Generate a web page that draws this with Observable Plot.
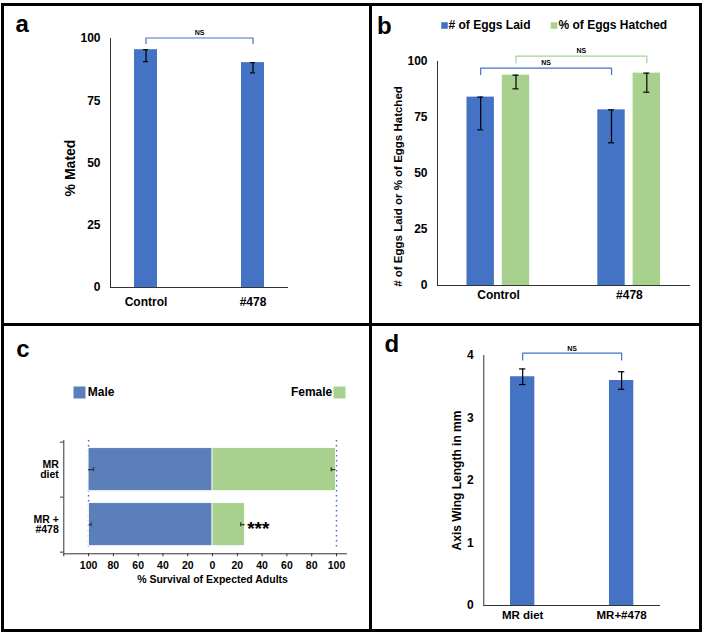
<!DOCTYPE html>
<html><head><meta charset="utf-8">
<script src="https://cdn.jsdelivr.net/npm/d3@7"></script>
<script src="https://cdn.jsdelivr.net/npm/@observablehq/plot@0.6"></script>
<style>
body{margin:0;background:#fff}
#root{position:relative;width:706px;height:634px;background:#fff;overflow:hidden}
.panel{position:absolute}
.bline{position:absolute;background:#000}
</style></head><body><div id="root"></div>
<script>
// ---------- data ----------
const aGroups = ["Control", "#478"];
const aMated = [95.5, 90.3];
const aMatedErr = [4.8, 4.1];
const aYTicks = [0, 25, 50, 75, 100];
const aYTitle = "% Mated";
const aBracket = [98.0, 100.2]; // leg end, bracket level (data units)

const bGroups = ["Control", "#478"];
const bSeries = ["# of Eggs Laid", "% of Eggs Hatched"];
const bLaid = [84.1, 78.4];
const bLaidErr = [14.6, 14.7];
const bHatched = [93.9, 94.8];
const bHatchedErr = [6.1, 8.5];
const bYTicks = [0, 25, 50, 75, 100];
const bYTitle = "# of Eggs Laid or % of Eggs Hatched";
const bBracketLaid = [94.2, 97.0];
const bBracketHatched = [99.4, 102.4];

const cGroups = ["MR diet", "MR + #478"];
const cGroupLabels = ["MR\ndiet", "MR +\n#478"];
const cSeries = ["Male", "Female"];
const cMale = [100, 99.6];
const cMaleErr = [4.0, 1.7];
const cFemale = [99.5, 26.3];
const cFemaleErr = [3.7, 3.5];
const cSignif = ["", "***"];
const cXTicks = [-120, -100, -80, -60, -40, -20, 0, 20, 40, 60, 80, 100];
const cXTitle = "% Survival of Expected Adults";

const dGroups = ["MR diet", "MR+#478"];
const dWing = [3.66, 3.60];
const dWingErr = [0.125, 0.14];
const dYTicks = [0, 1, 2, 3, 4];
const dYTitle = "Axis Wing Length in mm";
const dBracket = [3.93, 4.037];

const nsLabel = "NS";
const panelLetters = ["a", "b", "c", "d"];

// ---------- style ----------
const BLUE = "#4472c4";
const GREEN = "#a9d18e";
const MALE = "#5b7fb9";
const AXIS = "#333";
const FONT = "'Liberation Sans', Arial, Helvetica, sans-serif";
const baseStyle = `font-family:${FONT};font-weight:bold;font-size:12px;color:#000;background:transparent;overflow:visible`;

function bracket(from, to, lv) {
  return [{x: from, y: lv[0]}, {x: from, y: lv[1]}, {x: to, y: lv[1]}, {x: to, y: lv[0]}];
}

const root = document.getElementById("root");
function place(svg, left, top, w, h) {
  const div = document.createElement("div");
  div.className = "panel";
  div.style.left = left + "px"; div.style.top = top + "px";
  div.style.width = w + "px"; div.style.height = h + "px";
  div.appendChild(svg);
  root.appendChild(div);
}
function yTitle(text, dx, dy, fontSize) {
  return Plot.text([text], {frameAnchor: "left", rotate: -90, textAnchor: "middle", lineAnchor: "middle", dx, dy, fontSize});
}
function letter(text, dx, dy) {
  return Plot.text([text], {frameAnchor: "top-left", dx, dy, textAnchor: "start", lineAnchor: "bottom", fontSize: 24});
}
function legendText(text, dx, dy, anchor) {
  return Plot.text([text], {frameAnchor: "top-left", dx, dy, textAnchor: anchor, lineAnchor: "middle", fontSize: 12});
}

// ---------- panel a ----------
const aData = aGroups.map((g, i) => ({g, v: aMated[i], e: aMatedErr[i]}));
place(Plot.plot({
  width: 369, height: 322, marginLeft: 110, marginRight: 81, marginTop: 38, marginBottom: 35,
  style: baseStyle,
  x: {type: "band", domain: aGroups, paddingInner: 0.785, paddingOuter: 0.2243, round: false},
  y: {domain: [0, 100]},
  marks: [
    Plot.barY(aData, {x: "g", y: "v", fill: BLUE}),
    Plot.ruleX(aData, {x: "g", y1: d => d.v - d.e, y2: "v", stroke: "#000", strokeWidth: 1.2}),
    Plot.tickY(aData, {x: "g", y: d => d.v - d.e, stroke: "#000", strokeWidth: 1.2, insetLeft: 9, insetRight: 9}),
    Plot.tickY(aData, {x: "g", y: "v", stroke: "#000", strokeWidth: 1.2, insetLeft: 9, insetRight: 9}),
    Plot.line(bracket(aGroups[0], aGroups[1], aBracket), {x: "x", y: "y", stroke: BLUE, strokeWidth: 1.2}),
    Plot.text([{t: nsLabel, y: aBracket[1]}], {y: "y", text: "t", frameAnchor: "middle", textAnchor: "middle", lineAnchor: "middle", dy: -5, fontSize: 7}),
    Plot.ruleY([0], {stroke: AXIS}),
    Plot.frame({anchor: "left", stroke: AXIS}),
    Plot.axisY({ticks: aYTicks, tickSize: 0, tickPadding: 10, label: null, fontSize: 12}),
    Plot.axisX({tickSize: 0, tickPadding: 10, label: null, fontSize: 12}),
    yTitle(aYTitle, -40, 5, 14),
    letter(panelLetters[0], -95, -6.3)
  ]
}), 0, 0, 369, 322);

// ---------- panel b ----------
const bLaidData = bGroups.map((g, i) => ({g, v: bLaid[i], e: bLaidErr[i]}));
const bHatchData = bGroups.map((g, i) => ({g, v: bHatched[i], e: bHatchedErr[i]}));
const bOff = [-17.9, 17.4];
const bCols = [BLUE, GREEN];
const bMarks = [];
[bLaidData, bHatchData].forEach((data, k) => {
  bMarks.push(
    Plot.barY(data, {x: "g", y: "v", fill: bCols[k], dx: bOff[k], insetLeft: 19, insetRight: 19}),
    Plot.ruleX(data, {x: "g", y1: d => d.v - d.e, y2: "v", dx: bOff[k], stroke: "#000", strokeWidth: 1.2}),
    Plot.tickY(data, {x: "g", y: d => d.v - d.e, dx: bOff[k], stroke: "#000", strokeWidth: 1.2, insetLeft: 29.7, insetRight: 29.7}),
    Plot.tickY(data, {x: "g", y: "v", dx: bOff[k], stroke: "#000", strokeWidth: 1.2, insetLeft: 29.7, insetRight: 29.7})
  );
});
[bBracketLaid, bBracketHatched].forEach((lv, k) => {
  bMarks.push(
    Plot.line(bracket(bGroups[0], bGroups[1], lv), {x: "x", y: "y", dx: bOff[k], stroke: bCols[k], strokeWidth: 1.2}),
    Plot.text([{t: nsLabel, y: lv[1]}], {y: "y", text: "t", frameAnchor: "middle", textAnchor: "middle", lineAnchor: "middle", dx: bOff[k], dy: -5, fontSize: 7})
  );
});
place(Plot.plot({
  width: 337, height: 322, marginLeft: 68, marginRight: 16, marginTop: 61, marginBottom: 37,
  style: baseStyle,
  x: {type: "band", domain: bGroups, paddingInner: 0.5, paddingOuter: 0.217, round: false},
  y: {domain: [0, 100]},
  marks: [
    ...bMarks,
    Plot.ruleY([0], {stroke: AXIS}),
    Plot.frame({anchor: "left", stroke: AXIS}),
    Plot.axisY({ticks: bYTicks, tickSize: 0, tickPadding: 10, label: null, fontSize: 12}),
    Plot.axisX({tickSize: 0, tickPadding: 5, label: null, fontSize: 12}),
    yTitle(bYTitle, -39, 13, 11.5),
    Plot.dot([bSeries[0]], {frameAnchor: "top-left", dx: 7, dy: -36, symbol: "square", r: 3.7, fill: BLUE}),
    legendText(bSeries[0], 11, -36, "start"),
    Plot.dot([bSeries[1]], {frameAnchor: "top-left", dx: 116.5, dy: -36, symbol: "square", r: 3.7, fill: GREEN}),
    legendText(bSeries[1], 121, -36, "start"),
    letter(panelLetters[1], -60.5, -27.7)
  ]
}), 369, 0, 337, 322);

// ---------- panel c ----------
const cData = cGroups.map((g, i) => ({g, male: cMale[i], me: cMaleErr[i], female: cFemale[i], fe: cFemaleErr[i], sig: cSignif[i]}));
place(Plot.plot({
  width: 369, height: 312, marginLeft: 63.3, marginRight: 23.1, marginTop: 118, marginBottom: 80.7,
  style: baseStyle,
  x: {domain: [-120, 108]},
  y: {type: "band", domain: cGroups, paddingInner: 0.218, paddingOuter: 0.139, round: false},
  marks: [
    Plot.ruleX([-100, 100], {stroke: BLUE, strokeWidth: 1.5, strokeDasharray: "1.5,3.5", insetBottom: 5}),
    Plot.barX(cData, {y: "g", x1: d => -d.male, x2: d => 0, fill: MALE, stroke: "#fff", strokeWidth: 0.8}),
    Plot.barX(cData, {y: "g", x1: d => 0, x2: "female", fill: GREEN, stroke: "#fff", strokeWidth: 0.8}),
    Plot.ruleY(cData, {y: "g", x1: d => -d.male, x2: d => -(d.male - d.me), stroke: "#333", strokeWidth: 1.2}),
    Plot.tickX(cData, {y: "g", x: d => -(d.male - d.me), stroke: "#333", strokeWidth: 1.2, insetTop: 19.5, insetBottom: 19.5}),
    Plot.ruleY(cData, {y: "g", x1: "female", x2: d => d.female - d.fe, stroke: "#333", strokeWidth: 1.2}),
    Plot.tickX(cData, {y: "g", x: d => d.female - d.fe, stroke: "#333", strokeWidth: 1.2, insetTop: 19.5, insetBottom: 19.5}),
    Plot.text(cData.filter(d => d.sig), {x: "female", y: "g", text: "sig", textAnchor: "start", lineAnchor: "middle", dx: 2, dy: 4, fontSize: 19}),
    Plot.ruleX([-120], {stroke: AXIS}),
    Plot.frame({anchor: "bottom", stroke: AXIS}),
    Plot.ruleY(cGroups, {y: d => d, x1: d => -122.7, x2: d => -120, dy: -27.5, stroke: AXIS}),
    Plot.ruleY([cGroups[1]], {y: d => d, x1: d => -122.7, x2: d => -120, dy: 27.5, stroke: AXIS}),
    Plot.axisX({ticks: cXTicks, tickSize: 3, tickPadding: 5, stroke: AXIS, tickFormat: d => d === -120 ? "" : String(Math.abs(d)), label: null, fontSize: 10.5}),
    Plot.axisY({tickSize: 0, tickPadding: 5, tickFormat: d => cGroupLabels[cGroups.indexOf(d)], label: null, fontSize: 10.5, lineHeight: 1.02}),
    Plot.text([cXTitle], {x: () => 0, frameAnchor: "bottom", textAnchor: "middle", lineAnchor: "middle", dy: 26, fontSize: 10.5}),
    Plot.dot([cSeries[0]], {frameAnchor: "top-left", dx: 15.7, dy: -48, symbol: "square", r: 6.77, fill: MALE}),
    legendText(cSeries[0], 24, -48, "start"),
    Plot.dot([cSeries[1]], {frameAnchor: "top-left", dx: 275.7, dy: -48, symbol: "square", r: 6.77, fill: GREEN}),
    legendText(cSeries[1], 268.5, -48, "end"),
    letter(panelLetters[2], -47.6, -84)
  ]
}), 0, 322, 369, 312);

// ---------- panel d ----------
const dData = dGroups.map((g, i) => ({g, v: dWing[i], e: dWingErr[i]}));
place(Plot.plot({
  width: 337, height: 312, marginLeft: 114.3, marginRight: 46, marginTop: 33, marginBottom: 29,
  style: baseStyle,
  x: {type: "band", domain: dGroups, paddingInner: 0.754, paddingOuter: 0.27, round: false},
  y: {domain: [0, 4]},
  marks: [
    Plot.barY(dData, {x: "g", y: "v", fill: BLUE}),
    Plot.ruleX(dData, {x: "g", y1: d => d.v - d.e, y2: d => d.v + d.e, stroke: "#000", strokeWidth: 1.2}),
    Plot.tickY(dData, {x: "g", y: d => d.v - d.e, stroke: "#000", strokeWidth: 1.2, insetLeft: 9, insetRight: 9}),
    Plot.tickY(dData, {x: "g", y: d => d.v + d.e, stroke: "#000", strokeWidth: 1.2, insetLeft: 9, insetRight: 9}),
    Plot.line(bracket(dGroups[0], dGroups[1], dBracket), {x: "x", y: "y", stroke: BLUE, strokeWidth: 1.2}),
    Plot.text([{t: nsLabel, y: dBracket[1]}], {y: "y", text: "t", frameAnchor: "middle", textAnchor: "middle", lineAnchor: "middle", dy: -4.5, fontSize: 7}),
    Plot.ruleY([0], {stroke: AXIS}),
    Plot.frame({anchor: "left", stroke: AXIS}),
    Plot.axisY({ticks: dYTicks, tickSize: 0, tickPadding: 10, tickFormat: d => String(d), label: null, fontSize: 12}),
    Plot.axisX({tickSize: 0, tickPadding: 5, label: null, fontSize: 11.5}),
    yTitle(dYTitle, -26.6, 0, 12),
    letter(panelLetters[3], -99.3, -3.3)
  ]
}), 369, 322, 337, 312);

// ---------- panel borders ----------
[[1, 3, 701, 3], [1, 628.5, 701, 3], [1, 3, 3, 628.5], [698.5, 3, 3, 628.5], [368.5, 3, 3, 628.5], [1, 322.5, 701, 3]]
  .forEach(([l, t, w, h]) => {
    const d = document.createElement("div");
    d.className = "bline";
    d.style.left = l + "px"; d.style.top = t + "px"; d.style.width = w + "px"; d.style.height = h + "px";
    root.appendChild(d);
  });
</script></body></html>
